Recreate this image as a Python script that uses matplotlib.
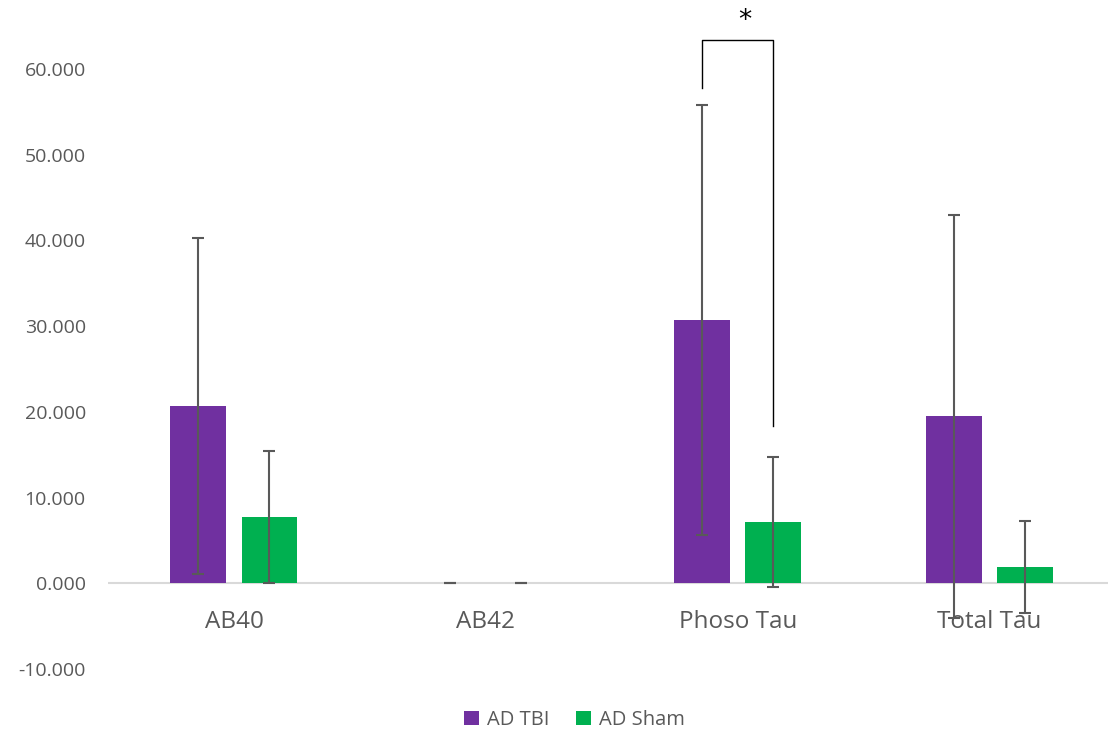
import matplotlib
matplotlib.use("Agg")
import matplotlib.pyplot as plt
import numpy as np

plt.rcParams['font.family'] = ['Open Sans', 'DejaVu Sans']

categories = ["AB40", "AB42", "Phoso Tau", "Total Tau"]
tbi_values = [20.66, 0.03, 30.70, 19.49]
tbi_errors = [19.6, 0.03, 25.1, 23.5]
sham_values = [7.70, 0.03, 7.12, 1.87]
sham_errors = [7.7, 0.03, 7.6, 5.37]
series_names = ["AD TBI", "AD Sham"]
yticks = [-10, 0, 10, 20, 30, 40, 50, 60]

purple = "#7030A0"
green = "#00B050"
errc = "#595959"
textc = "#595959"

fig = plt.figure(figsize=(11.09, 7.34), dpi=100)
ax = fig.add_axes([108/1109, 65/734, 1000/1109, 669/734])

x = np.arange(len(categories))
w = 0.222
off = 0.141
ax.bar(x - off, tbi_values, w, color=purple, label=series_names[0], zorder=2)
ax.bar(x + off, sham_values, w, color=green, label=series_names[1], zorder=2)
ax.errorbar(x - off, tbi_values, yerr=tbi_errors, fmt='none', ecolor=errc,
            elinewidth=1.5, capsize=4.5, capthick=1.5, zorder=3)
ax.errorbar(x + off, sham_values, yerr=sham_errors, fmt='none', ecolor=errc,
            elinewidth=1.5, capsize=4.5, capthick=1.5, zorder=3)

ax.axhline(0, color="#D9D9D9", lw=1.5, zorder=1)
ax.set_xlim(-0.5, 3.47)
ax.set_ylim(-10, 68.05)
ax.set_yticks(yticks)
ax.set_yticklabels([f"{v:.3f}" for v in yticks], color=textc, fontsize=14)
ax.tick_params(axis='y', length=0, pad=16)
ax.set_xticks([])
for xi, lab in zip(x, categories):
    ax.annotate(lab, xy=(xi, 0), xytext=(0, -39), textcoords='offset pixels',
                ha='center', va='center', fontsize=17.5, color=textc)
for s in ax.spines.values():
    s.set_visible(False)

# significance bracket
bx0 = 2 - off
bx1 = 2 + off
ax.plot([bx0, bx0, bx1, bx1], [57.8, 63.4, 63.4, 18.4], color="black", lw=1.0,
        clip_on=False, zorder=4)
ax.text(2.03, 65.6, "*", ha='center', va='center', fontsize=19, color="black",
        family='DejaVu Sans')

fig.legend(loc='center', bbox_to_anchor=(0.518, 14/734), ncol=2,
           frameon=False, fontsize=14.5, labelcolor=textc, handlelength=0.75,
           handleheight=0.75, handletextpad=0.4, columnspacing=1.3)

fig.savefig("out.png", dpi=100)
